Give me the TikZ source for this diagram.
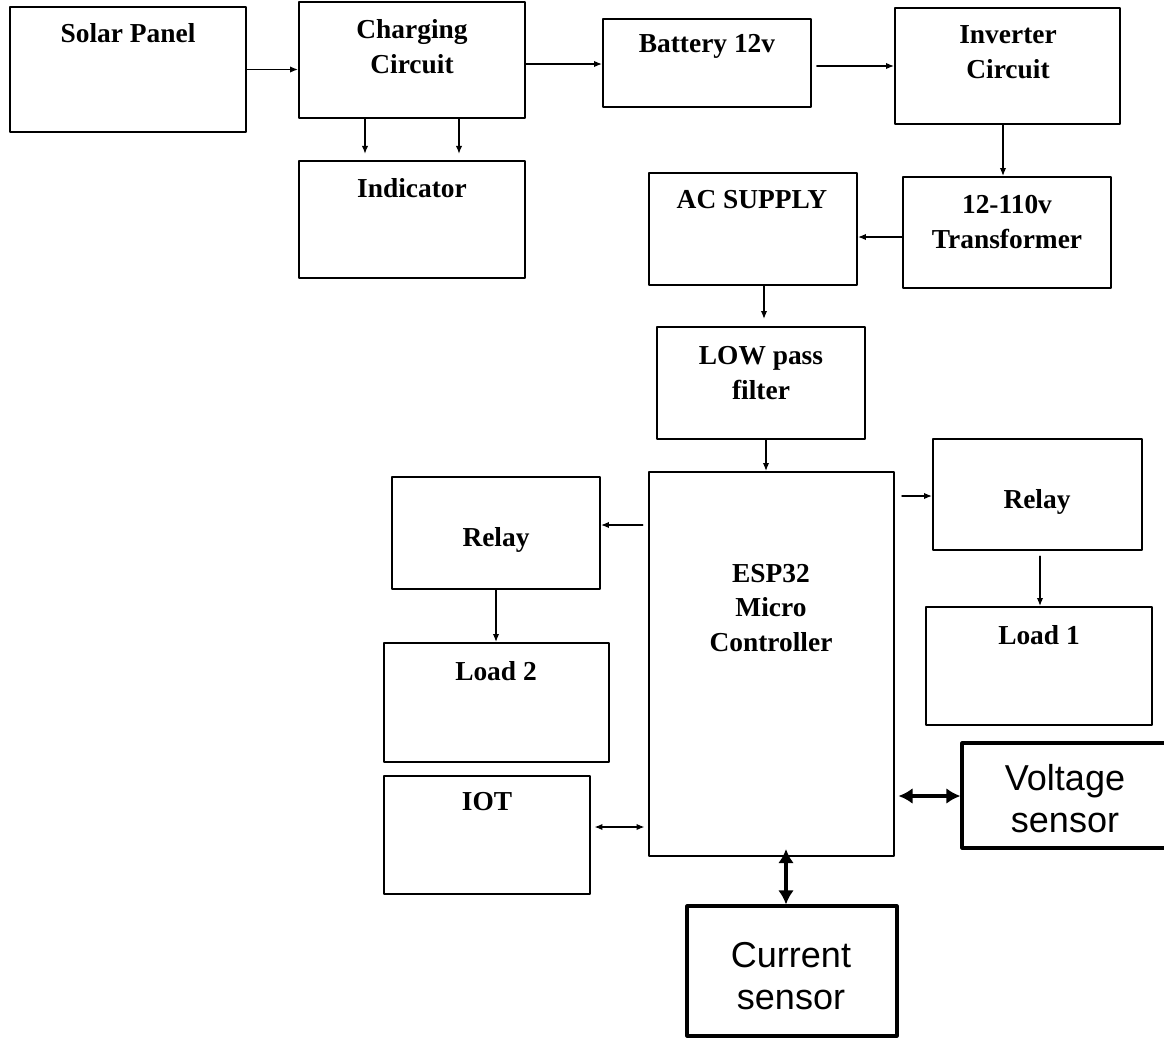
\documentclass[tikz,border=0pt]{standalone}
\usepackage{fontspec}
\setmainfont{Liberation Serif}
\setsansfont{Liberation Sans}
\usetikzlibrary{arrows.meta,fit}

\begin{document}
\begin{tikzpicture}[x=0.02cm, y=-0.02cm, line join=round, line cap=round,
	blk/.style={draw, line width=1.1pt, inner sep=0pt, fit={#1}},
	sen/.style={draw, line width=1.8pt, inner sep=0pt, fit={#1}},
	txt/.style={align=center, inner sep=0pt, font=\bfseries\fontsize{15.6}{19.8}\selectfont},
	stxt/.style={align=center, inner sep=0pt, font=\sffamily\fontsize{20.5}{23.8}\selectfont},
	arr/.style={line width=0.8pt, -{Latex[length=4.5pt,width=3.6pt]}},
	arrtwo/.style={line width=0.8pt, {Latex[length=4.5pt,width=3.6pt]}-{Latex[length=4.5pt,width=3.6pt]}},
	arrbig/.style={line width=1.8pt, {Latex[length=8pt,width=9pt]}-{Latex[length=8pt,width=9pt]}}]
	\useasboundingbox (0,0) rectangle (1164,1038);

	\node[blk={(10,7) (246,132)}] (solar) {};
	\node[blk={(299,2) (525,118)}] (charge) {};
	\node[blk={(603,19) (811,107)}] (batt) {};
	\node[blk={(895,8) (1120,124)}] (inv) {};
	\node[blk={(299,161) (525,278)}] (ind) {};
	\node[blk={(649,173) (857,285)}] (ac) {};
	\node[blk={(903,177) (1111,288)}] (trans) {};
	\node[blk={(657,327) (865,439)}] (lpf) {};
	\node[blk={(649,472) (894,856)}] (esp) {};
	\node[blk={(392,477) (600,589)}] (rl) {};
	\node[blk={(384,643) (609,762)}] (load2) {};
	\node[blk={(384,776) (590,894)}] (iot) {};
	\node[blk={(933,439) (1142,550)}] (rr) {};
	\node[blk={(926,607) (1152,725)}] (load1) {};
	\node[sen={(962,743) (1168,848)}] (volt) {};
	\node[sen={(687,906) (897,1036)}] (curr) {};

	\node[txt] (solar-t) at (128,33) {Solar Panel};
	\node[txt] (charge-t) at (412,47) {Charging\\Circuit};
	\node[txt] (batt-t) at (707,46) {Battery 12v};
	\node[txt] (inv-t) at (1008,52) {Inverter\\Circuit};
	\node[txt] (ind-t) at (412,188) {Indicator};
	\node[txt] (ac-t) at (752,200) {AC SUPPLY};
	\node[txt] (trans-t) at (1007,222) {12-110v\\Transformer};
	\node[txt] (lpf-t) at (761,373) {LOW pass\\filter};
	\node[txt] (esp-t) at (771,608) {ESP32\\Micro\\Controller};
	\node[txt] (rl-t) at (496,540) {Relay};
	\node[txt] (load2-t) at (496,671) {Load 2};
	\node[txt] (iot-t) at (487,802) {IOT};
	\node[txt] (rr-t) at (1037,502) {Relay};
	\node[txt] (load1-t) at (1039,635) {Load 1};
	\node[stxt] (volt-t) at (1065,799) {Voltage\\sensor};
	\node[stxt] (curr-t) at (791,976) {Current\\sensor};

	\draw[arr] (solar.east) -- (solar.east -| charge.west);
	\draw[arr] (charge.east |- 0,64) -- (batt.west |- 0,64);
	\draw[arr, shorten <=2.8pt] (batt.east |- 0,66) -- (inv.west |- 0,66);
	\draw[arr, shorten >=3.5pt] (charge.south -| 365,0) -- (ind.north -| 365,0);
	\draw[arr, shorten >=3.5pt] (charge.south -| 459,0) -- (ind.north -| 459,0);
	\draw[arr] (inv.south -| 1003,0) -- (trans.north -| 1003,0);
	\draw[arr] (trans.west |- 0,237) -- (ac.east |- 0,237);
	\draw[arr, shorten >=4pt] (ac.south -| 764,0) -- (lpf.north -| 764,0);
	\draw[arr] (lpf.south -| 766,0) -- (esp.north -| 766,0);
	\draw[arr, shorten <=3pt] (esp.west |- 0,525) -- (rl.east |- 0,525);
	\draw[arr, shorten <=4pt] (esp.east |- 0,496) -- (rr.west |- 0,496);
	\draw[arr] (rl.south) -- (rl.south |- load2.north);
	\draw[arr, shorten <=3pt] (rr.south -| 1040,0) -- (load1.north -| 1040,0);
	\draw[arrtwo, shorten <=2pt, shorten >=2pt] (iot.east |- 0,827) -- (esp.west |- 0,827);
	\draw[arrbig, shorten <=2pt] (esp.east |- 0,796) -- (volt.west |- 0,796);
	\draw[arrbig, shorten >=-4.5pt] (curr.north -| 786,0) -- (esp.south -| 786,0);
\end{tikzpicture}
\end{document}
